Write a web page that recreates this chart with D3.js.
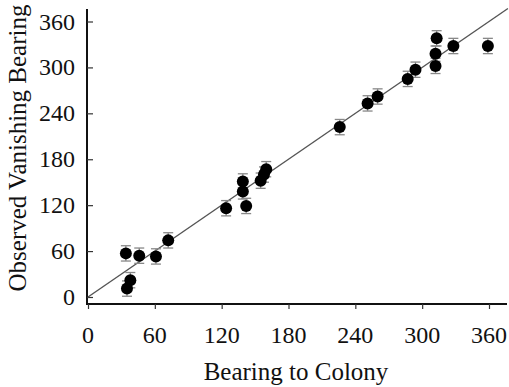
<!DOCTYPE html>
<html>
<head>
<meta charset="utf-8">
<script src="https://cdn.jsdelivr.net/npm/d3@7"></script>
<style>
  body { margin: 0; background: #fff; }
  text { font-family: "Liberation Serif", "Times New Roman", serif; fill: #111; }
</style>
</head>
<body>
<svg id="chart" width="509" height="387"></svg>
<script>
// bearing to colony (deg) and observed vanishing bearing (deg)
var bearing = [34, 46, 61, 72, 38, 35, 124, 142, 139, 139, 155, 158, 160, 226, 251, 260, 287, 294, 312, 312, 313, 328, 359];
var vanishing = [57, 54, 53, 74, 22, 11, 116, 119, 138, 151, 152, 160, 167, 222, 253, 262, 285, 297, 302, 318, 338, 328, 328];
var errSize = 10; // +/- deg on observed bearing
var tickVals = [0, 60, 120, 180, 240, 300, 360];

var svg = d3.select('#chart');

var x = d3.scaleLinear().domain([0, 360]).range([88, 489]),
    y = d3.scaleLinear().domain([0, 360]).range([297, 21.5]);

// axes (tick marks from d3, labels drawn below so the serif font sticks)
var xAxis = d3.axisBottom(x).tickValues(tickVals).tickSize(5).tickFormat(function () { return ''; });
var gx = svg.append('g').attr('transform', 'translate(0,304)').call(xAxis);
gx.select('.domain').attr('d', 'M87,0H507').attr('stroke', '#111').attr('stroke-width', 2);

var yAxis = d3.axisRight(y).tickValues(tickVals).tickSize(6).tickFormat(function () { return ''; });
var gy = svg.append('g').attr('transform', 'translate(87,0)').call(yAxis);
gy.select('.domain').attr('d', 'M0,9V305').attr('stroke', '#111').attr('stroke-width', 2);

svg.selectAll('.tick line').attr('stroke', '#333').attr('stroke-width', 1.2);

svg.append('g').selectAll('text').data(tickVals).enter().append('text')
  .attr('x', function (d) { return x(d); })
  .attr('y', 343)
  .attr('text-anchor', 'middle')
  .style('font-size', '24px')
  .text(function (d) { return d; });

svg.append('g').selectAll('text').data(tickVals).enter().append('text')
  .attr('x', 75)
  .attr('y', function (d) { return y(d) + 8; })
  .attr('text-anchor', 'end')
  .style('font-size', '24px')
  .text(function (d) { return d; });

// y = x reference line
svg.append('line')
  .attr('x1', x(0)).attr('y1', y(0))
  .attr('x2', x(377)).attr('y2', y(377))
  .attr('stroke', '#555').attr('stroke-width', 1.4);

// error bars
var pts = bearing.map(function (b, i) { return { b: b, v: vanishing[i] }; });
var eb = svg.append('g').attr('stroke', '#888').attr('stroke-width', 1.3);
pts.forEach(function (d) {
  var cx = x(d.b), y0 = y(d.v - errSize), y1 = y(d.v + errSize);
  eb.append('line').attr('x1', cx).attr('x2', cx).attr('y1', y0).attr('y2', y1);
  eb.append('line').attr('x1', cx - 5).attr('x2', cx + 5).attr('y1', y0).attr('y2', y0);
  eb.append('line').attr('x1', cx - 5).attr('x2', cx + 5).attr('y1', y1).attr('y2', y1);
});

svg.append('g').selectAll('circle').data(pts).enter().append('circle')
  .attr('cx', function (d) { return x(d.b); })
  .attr('cy', function (d) { return y(d.v); })
  .attr('r', 6)
  .attr('fill', '#000');

// titles
svg.append('text').attr('x', 296).attr('y', 380).attr('text-anchor', 'middle')
  .style('font-size', '25px').text('Bearing to Colony');
svg.append('text').attr('transform', 'translate(26,148) rotate(-90)').attr('text-anchor', 'middle')
  .style('font-size', '25px').text('Observed Vanishing Bearing');
</script>
</body>
</html>
